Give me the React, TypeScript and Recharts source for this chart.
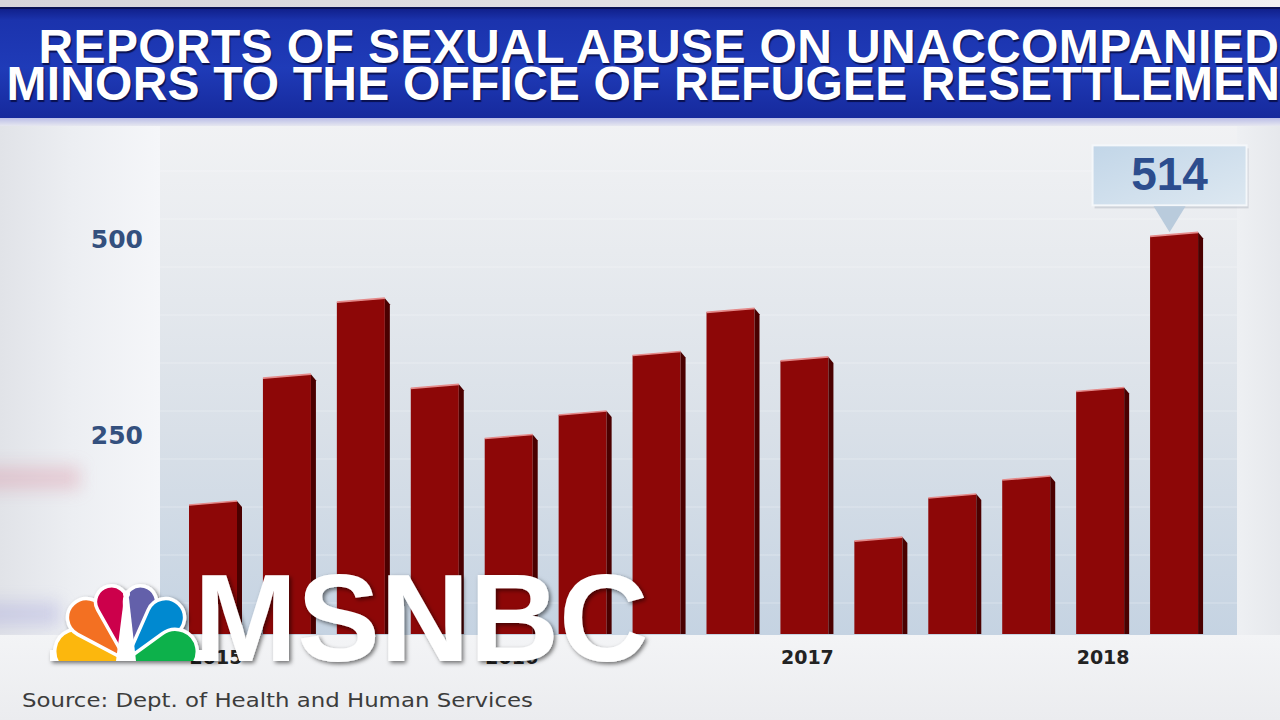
import React from 'react';
import { BarChart, Bar, XAxis, YAxis, LabelList } from 'recharts';

const quarters = [
  '2015 Q1', '2015 Q2', '2015 Q3', '2015 Q4',
  '2016 Q1', '2016 Q2', '2016 Q3', '2016 Q4',
  '2017 Q1', '2017 Q2', '2017 Q3', '2017 Q4',
  '2018 Q1', '2018 Q2',
];
const reports = [171, 333, 430, 320, 256, 286, 362, 417, 355, 125, 180, 203, 316, 514];
const yTicks = [250, 500];
const titleLine1 = 'REPORTS OF SEXUAL ABUSE ON UNACCOMPANIED';
const titleLine2 = 'MINORS TO THE OFFICE OF REFUGEE RESETTLEMENT';
const sourceText = 'Source: Dept. of Health and Human Services';

const data = quarters.map((q, i) => ({ quarter: q, value: reports[i] }));

// NBC peacock feathers: direction (deg), distance of round end centre from base, radius
const peacock = [
  { color: '#FCB711', angle: 170, d: 50, r: 22 },
  { color: '#F37021', angle: 133, d: 58, r: 19 },
  { color: '#CC004C', angle: 104, d: 60, r: 16 },
  { color: '#6460AA', angle: 76, d: 60, r: 16 },
  { color: '#0089D0', angle: 47, d: 58, r: 19 },
  { color: '#0DB14B', angle: 10, d: 50, r: 22 },
];

function tearPath(bx: number, by: number, angleDeg: number, d: number, r: number) {
  const th = (angleDeg * Math.PI) / 180;
  const a = Math.asin(r / d);
  const t = Math.sqrt(d * d - r * r);
  const x1 = bx + t * Math.cos(th + a);
  const y1 = by - t * Math.sin(th + a);
  const x2 = bx + t * Math.cos(th - a);
  const y2 = by - t * Math.sin(th - a);
  return `M${bx},${by} L${x1},${y1} A${r},${r} 0 1 1 ${x2},${y2} Z`;
}

const BarShape = (props: any) => {
  const { x, y, width, height } = props;
  if (width == null || height == null || height <= 0) return null;
  const side = 5;
  const bottom = y + height;
  const fx = x + width - side;
  return (
    <g>
      <polygon points={`${x},${y + 5} ${fx},${y + 1} ${fx},${bottom} ${x},${bottom}`} fill="#8d0707" />
      <polygon points={`${fx},${y + 1} ${x + width},${y + 7} ${x + width},${bottom} ${fx},${bottom}`} fill="#4a0000" />
      <line x1={x} y1={y + 5} x2={fx} y2={y + 1} stroke="#e48a8a" strokeWidth={1.6} />
    </g>
  );
};

const PeakLabel = (props: any) => {
  const { x, y, width, value, index } = props;
  if (index !== reports.length - 1) return null;
  const cx = x + width / 2 - 7;
  const boxW = 154;
  const boxH = 60;
  const boxBottom = y - 26;
  const boxTop = boxBottom - boxH;
  return (
    <g>
      <defs>
        <linearGradient id="boxGrad" x1="0" y1="0" x2="1" y2="1">
          <stop offset="0%" stopColor="#c2d6e8" />
          <stop offset="100%" stopColor="#dde8f1" />
        </linearGradient>
      </defs>
      <rect x={cx - boxW / 2 + 2} y={boxTop + 3} width={boxW} height={boxH} fill="rgba(80,90,110,0.18)" />
      <rect x={cx - boxW / 2} y={boxTop} width={boxW} height={boxH} fill="url(#boxGrad)" stroke="#f4f7fa" strokeWidth={2} />
      <polygon points={`${cx - 16},${boxBottom + 1} ${cx + 16},${boxBottom + 1} ${cx},${y + 1}`} fill="#b9cbdc" />
      <text x={cx} y={boxTop + 45} textAnchor="middle" fontFamily="Liberation Sans, Arial, sans-serif" fontWeight={700} fontSize={46} fill="#2c4d8e">
        {value}
      </text>
    </g>
  );
};

const titleStyle: React.CSSProperties = {
  position: 'absolute',
  whiteSpace: 'nowrap',
  color: '#ffffff',
  fontFamily: 'Liberation Sans, Arial, sans-serif',
  fontWeight: 700,
  fontSize: 48,
  lineHeight: '36px',
  height: 36,
  textShadow: '1px 1.5px 1px rgba(5,9,58,0.8)',
};

export default function App() {
  return (
    <div style={{ position: 'absolute', left: 0, top: 0, width: 1280, height: 720, overflow: 'hidden', background: '#eceef1', fontFamily: 'Liberation Sans, Arial, sans-serif' }}>
      {/* top strip */}
      <div style={{ position: 'absolute', left: 0, top: 0, width: 1280, height: 8, background: 'linear-gradient(90deg,#d6d5da,#e4e3e6 60%,#f0f0f2)' }} />
      {/* left column */}
      <div style={{ position: 'absolute', left: 0, top: 124, width: 160, height: 512, background: 'linear-gradient(90deg,#e1e3e8 0%,#eceef2 45%,#f5f6f9 100%)' }} />
      <div style={{ position: 'absolute', left: -20, top: 466, width: 100, height: 24, background: 'rgba(215,130,150,0.3)', filter: 'blur(8px)' }} />
      <div style={{ position: 'absolute', left: -20, top: 602, width: 80, height: 24, background: 'rgba(150,150,215,0.3)', filter: 'blur(8px)' }} />
      {/* plot background */}
      <div style={{ position: 'absolute', left: 160, top: 124, width: 1077, height: 511, background: 'linear-gradient(180deg,#f1f2f4 0%,#e8ebef 25%,#d9e0e8 60%,#c5d3e2 100%)' }} />
      <div style={{ position: 'absolute', left: 160, top: 124, width: 1077, height: 511, background: 'repeating-linear-gradient(180deg, rgba(255,255,255,0) 0px, rgba(255,255,255,0) 46px, rgba(255,255,255,0.3) 47px, rgba(255,255,255,0) 48px)' }} />
      {/* right column */}
      <div style={{ position: 'absolute', left: 1237, top: 124, width: 43, height: 512, background: 'linear-gradient(90deg,#eef0f3,#e6e8ec)' }} />
      {/* bottom */}
      <div style={{ position: 'absolute', left: 0, top: 635, width: 1280, height: 85, background: 'linear-gradient(180deg,#f3f4f6 0%,#ebecef 100%)' }} />

      {/* banner */}
      <div style={{ position: 'absolute', left: 0, top: 0, width: 1280, height: 126, overflow: 'hidden' }}>
        <div style={{ position: 'absolute', left: 0, top: 117, width: 1280, height: 9, background: 'linear-gradient(180deg,#b5b9e6,#e6e7f0)' }} />
        <div style={{ position: 'absolute', left: 0, top: 7, width: 1280, height: 111, background: 'linear-gradient(180deg,#0f1d86 0%,#1b33ad 12%,#1f3bb8 55%,#16299c 100%)' }} />
        <div style={{ position: 'absolute', left: 0, top: 7, width: 1280, height: 2, background: '#0a1256' }} />
        <div style={{ ...titleStyle, left: 38.5, top: 29.4, letterSpacing: '0.37px' }}>{titleLine1}</div>
        <div style={{ ...titleStyle, left: 6.6, top: 66.4, letterSpacing: '0.18px' }}>{titleLine2}</div>
      </div>

      {/* chart */}
      <div style={{ position: 'absolute', left: 0, top: 0 }}>
        <BarChart width={1280} height={720} data={data} margin={{ top: 164, right: 66, bottom: 56, left: 119 }}>
          <XAxis
            dataKey="quarter"
            interval={0}
            height={30}
            axisLine={false}
            tickLine={false}
            tickSize={0}
            tickMargin={17}
            tickFormatter={(v: string) => (v.endsWith('Q1') ? v.slice(0, 4) : '')}
            tick={{ fill: '#222222', fontSize: 19, fontWeight: 700, fontFamily: 'DejaVu Sans, sans-serif' }}
          />
          <YAxis
            width={60}
            domain={[0, 600]}
            ticks={yTicks}
            axisLine={false}
            tickLine={false}
            tickSize={0}
            tickMargin={36}
            tick={{ fill: '#34507e', fontSize: 25, fontWeight: 700, fontFamily: 'DejaVu Sans, sans-serif', dy: -3 }}
          />
          <Bar dataKey="value" barSize={53} shape={<BarShape />} isAnimationActive={false}>
            <LabelList dataKey="value" content={<PeakLabel />} />
          </Bar>
        </BarChart>
      </div>

      {/* overlay: logo and source */}
      <svg width={1280} height={720} style={{ position: 'absolute', left: 0, top: 0, pointerEvents: 'none' }}>
        <defs>
          <filter id="logoShadow" x="-10%" y="-10%" width="130%" height="130%">
            <feDropShadow dx="2" dy="2" stdDeviation="2" floodColor="#000000" floodOpacity="0.55" />
          </filter>
          <clipPath id="peacockClip">
            <rect x={30} y={560} width={200} height={101} />
          </clipPath>
        </defs>
        <g filter="url(#logoShadow)">
          <g clipPath="url(#peacockClip)">
            <rect x={50} y={650} width={154} height={12} fill="#ffffff" />
            {peacock.map((f, i) => (
              <path key={i} d={tearPath(126, 660, f.angle, f.d, f.r)} fill={f.color} stroke="#ffffff" strokeWidth={3.5} strokeLinejoin="round" />
            ))}
            {peacock.map((f, i) => (
              <path key={'f' + i} d={tearPath(126, 660, f.angle, f.d, f.r)} fill={f.color} stroke="none" transform="translate(0,0)" opacity={0} />
            ))}
            <polygon points="116,661 136,661 128.5,594 124.5,594" fill="#ffffff" />
            <circle cx={126.5} cy={594} r={3.5} fill="#ffffff" />
          </g>
          <text x={194} y={661} fontFamily="Liberation Sans, Arial, sans-serif" fontWeight={700} fontSize={124} fill="#ffffff">
            MSNBC
          </text>
        </g>
        <text x={22} y={707} fontFamily="DejaVu Sans, sans-serif" fontSize={20} fill="#3c3c3c" textLength={511} lengthAdjust="spacingAndGlyphs">
          {sourceText}
        </text>
      </svg>
    </div>
  );
}
